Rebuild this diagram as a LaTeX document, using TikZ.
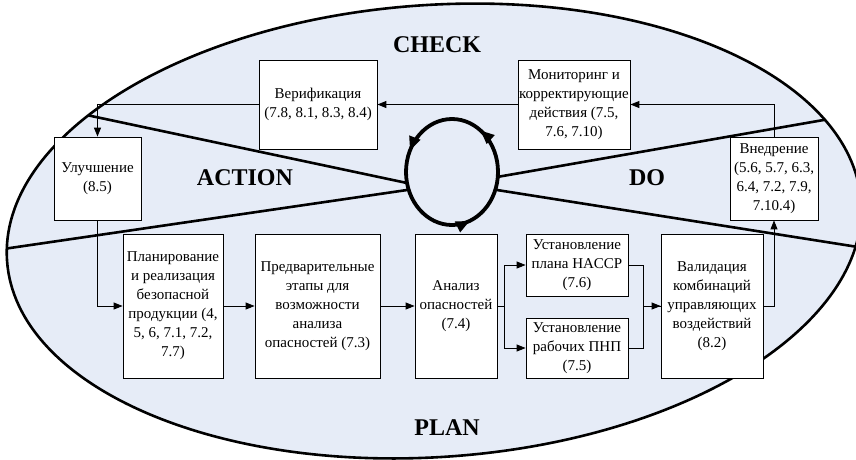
\documentclass[tikz,border=0pt]{standalone}
\usepackage{fontspec}
\setmainfont{Liberation Serif}
\usetikzlibrary{arrows.meta, calc, positioning, decorations.markings}
\definecolor{pdcafill}{RGB}{230,236,247}
\newcommand{\boxtext}{\fontsize{15}{19}\selectfont}
\newcommand{\zonetext}{\fontsize{24}{28}\selectfont\bfseries}

\begin{document}
\begin{tikzpicture}[
    box/.style={draw, fill=white, line width=0.8pt, align=center, inner sep=1pt, font=\boxtext},
    link/.style={line width=0.9pt, -{Triangle[length=9pt,width=7pt]}},
    zone/.style={font=\zonetext},
    split/.style={line width=2.6pt},
]
\begin{scope}[x=1pt,y=-1pt]
    \useasboundingbox (0,0) rectangle (856,459);

    %
    \fill[pdcafill,rotate around={4:(434,231)}] (434,231) ellipse[x radius=428, y radius=226];
    \begin{scope}
        \clip[rotate around={4:(434,231)}] (434,231) ellipse[x radius=428, y radius=226];
        \draw[split] (55,108.3)--(407,183);
        \draw[split] (-5,250.2)--(407,190);
        \draw[split] (497,177)--(835,118);
        \draw[split] (497,190)--(875,249.7);
    \end{scope}
    \draw[line width=2.6pt,rotate around={4:(434,231)}] (434,231) ellipse[x radius=428, y radius=226];

    %
    \node[box,minimum width=118pt,minimum height=89pt] (verif) at (318,104.5) {Верификация\\(7.8, 8.1, 8.3, 8.4)};
    \node[box,minimum width=112pt,minimum height=89pt] (monit) at (574,104.5) {Мониторинг и\\корректирующие\\действия (7.5,\\7.6, 7.10)};
    \node[box,minimum width=87pt,minimum height=83pt] (improve) at (97.5,178.5) {Улучшение\\(8.5)};
    \node[box,minimum width=88pt,minimum height=83pt] (implement) at (774,178.5) {Внедрение\\(5.6, 5.7, 6.3,\\6.4, 7.2, 7.9,\\7.10.4)};
    \node[box,minimum width=100pt,minimum height=144pt] (planning) at (173,306) {Планирование\\и реализация\\безопасной\\продукции (4,\\5, 6, 7.1, 7.2,\\7.7)};
    \node[box,minimum width=125pt,minimum height=144pt] (prelim) at (317.5,306) {Предварительные\\этапы для\\возможности\\анализа\\опасностей (7.3)};
    \node[box,minimum width=82pt,minimum height=144pt] (hazard) at (456,306) {Анализ\\опасностей\\(7.4)};
    \node[box,minimum width=102pt,minimum height=62pt] (haccp) at (577,265) {Установление\\плана HACCP\\(7.6)};
    \node[box,minimum width=102pt,minimum height=60pt] (prp) at (577,348) {Установление\\рабочих ПНП\\(7.5)};
    \node[box,minimum width=102pt,minimum height=144pt] (valid) at (712,306) {Валидация\\комбинаций\\управляющих\\воздействий\\(8.2)};

    %
    \draw[link] (implement.north) |- (monit.east);
    \draw[link] (monit.west) -- (verif.east);
    \draw[link] (verif.west) -| (improve.north);
    \draw[link] (improve.south) |- (planning.west);
    \draw[link] (planning.east) -- (prelim.west);
    \draw[link] (prelim.east) -- (hazard.west);
    \draw[link] (hazard.east) -- ++(7,0) |- (haccp.west);
    \draw[link] (hazard.east) -- ++(7,0) |- (prp.west);
    \draw[line width=0.9pt] (prp.east) -- ++(15,0) |- (valid.west);
    \draw[link] (haccp.east) -- ++(15,0) |- (valid.west);
    \draw[link] (valid.east) -| (implement.south);

    %
    \node[zone] (lblcheck) at (437,45) {CHECK};
    \node[zone] (lblaction) at (245,178) {ACTION};
    \node[zone] (lbldo) at (647,178) {DO};
    \node[zone] (lblplan) at (447,428) {PLAN};

    %
    \draw[line width=3.8pt,postaction={decorate},decoration={markings,
        mark=at position 0.19 with {\arrowreversed{Triangle[length=14pt,width=11pt]}},
        mark=at position 0.57 with {\arrowreversed{Triangle[length=14pt,width=11pt]}},
        mark=at position 0.85 with {\arrowreversed{Triangle[length=14pt,width=11pt]}}}]
        (452,172) ellipse[x radius=46, y radius=53];
\end{scope}
\end{tikzpicture}
\end{document}
